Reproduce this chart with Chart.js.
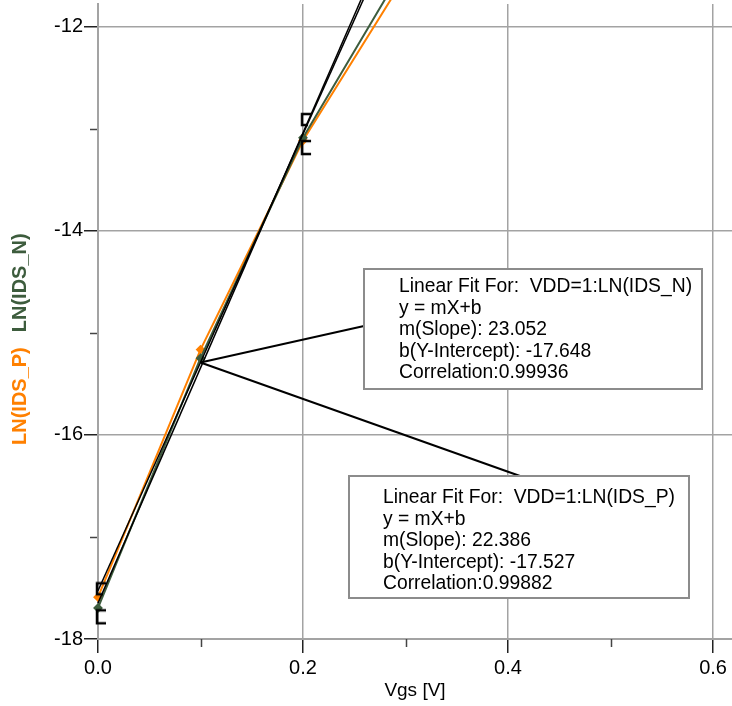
<!DOCTYPE html>
<html>
<head>
<meta charset="utf-8">
<script src="https://cdn.jsdelivr.net/npm/chart.js@4.4.1/dist/chart.umd.min.js"></script>
<style>
  html, body { margin: 0; padding: 0; background: #fff; }
</style>
</head>
<body>
<canvas id="fitChart" width="732" height="706"></canvas>
<script>
// measured data (Vgs sweep)
const vgs = [0, 0.1, 0.2, 0.3];
const lnIdsP = [-17.59, -15.163, -13.113, -11.5];
const lnIdsN = [-17.696, -15.248, -13.086, -11.39];

// linear fit lines, end points over the fit window
const fitX = [0, 0.3];
const nFitY = [-17.648, -10.7324];
const pFitY = [-17.527, -10.8112];

// fit range markers
const rangeX = [0, 0.2];
const rangeY = [-17.65, -13.05];

// point on the fit the two callouts start from
const calloutX = 0.1;
const calloutY = -15.29;

const nFitText = ['Linear Fit For:  VDD=1:LN(IDS_N)', 'y = mX+b', 'm(Slope): 23.052', 'b(Y-Intercept): -17.648', 'Correlation:0.99936'];
const pFitText = ['Linear Fit For:  VDD=1:LN(IDS_P)', 'y = mX+b', 'm(Slope): 22.386', 'b(Y-Intercept): -17.527', 'Correlation:0.99882'];

const ORANGE = '#ff8000';
const GREEN = '#3d5c3d';
const GRID = '#a3a3a3';
const FONT = '"Liberation Sans", Arial, sans-serif';

/**
 * make x/y pairs for a dataset
 */
function pairs(xs, ys) {
    return xs.map((x, i) => ({ x: x, y: ys[i] }));
}

/**
 * bracket marker used for the fit range ends
 */
function bracketMarker() {
    const c = document.createElement('canvas');
    c.width = 24;
    c.height = 44;
    const g = c.getContext('2d');
    g.strokeStyle = '#000';
    g.lineWidth = 2.5;
    g.beginPath();
    // upper piece
    g.moveTo(20, 2); g.lineTo(11, 2); g.lineTo(11, 13); g.lineTo(17, 13);
    // lower piece
    g.moveTo(20, 29); g.lineTo(11, 29); g.lineTo(11, 42); g.lineTo(20, 42);
    g.stroke();
    return c;
}

// small ticks between the labelled ones, and the y axis titles
const extras = {
    id: 'extras',
    beforeDatasetsDraw(chart) {
        const ctx = chart.ctx;
        const x = chart.scales.x, y = chart.scales.y;
        const area = chart.chartArea;
        ctx.save();
        ctx.strokeStyle = '#444';
        ctx.lineWidth = 1.5;
        ctx.beginPath();
        x.ticks.forEach(t => {
            if (Math.round(t.value * 10) % 2 !== 0) {
                const px = Math.round(x.getPixelForValue(t.value)) + 0.5;
                ctx.moveTo(px, area.bottom); ctx.lineTo(px, area.bottom + 8);
            }
        });
        y.ticks.forEach(t => {
            if (Math.round(t.value) % 2 !== 0) {
                const py = Math.round(y.getPixelForValue(t.value)) + 0.5;
                ctx.moveTo(area.left - 1, py); ctx.lineTo(area.left - 8, py);
            }
        });
        ctx.stroke();
        ctx.restore();
    },
    afterDraw(chart) {
        const ctx = chart.ctx;
        const x = chart.scales.x, y = chart.scales.y;
        const ax = x.getPixelForValue(calloutX);
        const ay = y.getPixelForValue(calloutY);
        const boxes = [
            { text: nFitText, left: 364, top: 269, width: 338, height: 120, tx: 399, ty: 287, end: [364, 326] },
            { text: pFitText, left: 349, top: 476, width: 340, height: 122, tx: 383, ty: 498, end: [520, 476] }
        ];
        ctx.save();
        // callout lines
        ctx.strokeStyle = '#000';
        ctx.lineWidth = 2;
        boxes.forEach(b => {
            ctx.beginPath();
            ctx.moveTo(ax, ay);
            ctx.lineTo(b.end[0], b.end[1]);
            ctx.stroke();
        });
        // boxes with the fit results
        boxes.forEach(b => {
            ctx.fillStyle = '#fff';
            ctx.fillRect(b.left, b.top, b.width, b.height);
            ctx.strokeStyle = '#8c8c8c';
            ctx.lineWidth = 2;
            ctx.strokeRect(b.left, b.top, b.width, b.height);
            ctx.fillStyle = '#000';
            ctx.font = '19.3px ' + FONT;
            ctx.textBaseline = 'middle';
            ctx.textAlign = 'left';
            b.text.forEach((line, i) => ctx.fillText(line, b.tx, b.ty + i * 21.5));
        });
        // y titles, one per series
        ctx.translate(20, 445);
        ctx.rotate(-Math.PI / 2);
        ctx.font = 'bold 20px ' + FONT;
        ctx.textBaseline = 'middle';
        ctx.textAlign = 'left';
        ctx.fillStyle = ORANGE;
        ctx.fillText('LN(IDS_P)', 0, 0);
        const w = ctx.measureText('LN(IDS_P)').width;
        ctx.fillStyle = GREEN;
        ctx.fillText('LN(IDS_N)', w + 15, 0);
        ctx.restore();
    }
};

function fitChart(id) {
    const clip = { left: 12, top: 4, right: 0, bottom: 0 };
    const data = {
        datasets: [
            {
                label: 'fit range',
                data: pairs(rangeX, rangeY),
                showLine: false,
                pointStyle: bracketMarker(),
                clip: clip
            },
            {
                label: 'fit N',
                data: pairs(fitX, nFitY),
                borderColor: '#000',
                borderWidth: 1.5,
                pointRadius: 0,
                clip: clip
            },
            {
                label: 'fit P',
                data: pairs(fitX, pFitY),
                borderColor: '#000',
                borderWidth: 1.5,
                pointRadius: 0,
                clip: clip
            },
            {
                label: 'LN(IDS_N)',
                data: pairs(vgs, lnIdsN),
                borderColor: GREEN,
                backgroundColor: GREEN,
                borderWidth: 2,
                pointStyle: 'rectRot',
                pointRadius: 3.5,
                clip: clip
            },
            {
                label: 'LN(IDS_P)',
                data: pairs(vgs, lnIdsP),
                borderColor: ORANGE,
                backgroundColor: ORANGE,
                borderWidth: 2,
                pointStyle: 'rectRot',
                pointRadius: 3.5,
                clip: clip
            }
        ]
    };

    const config = {
        type: 'line',
        data: data,
        options: {
            responsive: false,
            animation: false,
            devicePixelRatio: 1,
            layout: { autoPadding: false, padding: { top: 4, left: 0, right: 0, bottom: 0 } },
            plugins: { legend: { display: false }, tooltip: { enabled: false } },
            elements: { line: { tension: 0 } },
            scales: {
                x: {
                    type: 'linear',
                    min: 0,
                    max: 0.6185,
                    afterFit: s => { s.height = 67; s.paddingLeft = 0; s.paddingRight = 0; },
                    border: { color: GRID, width: 2 },
                    grid: {
                        color: c => Math.round(c.tick.value * 10) % 2 === 0 ? GRID : 'transparent',
                        lineWidth: 1.5,
                        tickLength: 14,
                        tickColor: c => Math.round(c.tick.value * 10) % 2 === 0 ? '#222' : 'transparent',
                        tickWidth: 1.5
                    },
                    ticks: {
                        stepSize: 0.1,
                        includeBounds: false,
                        maxRotation: 0,
                        autoSkip: false,
                        padding: 3,
                        color: '#000',
                        font: { family: FONT, size: 20 },
                        callback: v => Math.round(v * 10) % 2 === 0 ? v.toFixed(1) : ''
                    },
                    title: {
                        display: true,
                        text: 'Vgs [V]',
                        color: '#000',
                        font: { family: FONT, size: 19 },
                        padding: { top: 1 }
                    }
                },
                y: {
                    type: 'linear',
                    min: -18,
                    max: -11.775,
                    afterFit: s => { s.width = 98; s.paddingTop = 0; s.paddingBottom = 0; },
                    border: { color: GRID, width: 2 },
                    grid: {
                        color: c => Math.round(c.tick.value) % 2 === 0 ? GRID : 'transparent',
                        lineWidth: 1.5,
                        tickLength: 14,
                        tickColor: c => Math.round(c.tick.value) % 2 === 0 ? '#222' : 'transparent',
                        tickWidth: 1.5
                    },
                    ticks: {
                        stepSize: 1,
                        includeBounds: false,
                        autoSkip: false,
                        padding: 1,
                        color: '#000',
                        font: { family: FONT, size: 20 },
                        callback: v => Math.round(v) % 2 === 0 ? String(v) : ''
                    }
                }
            }
        },
        plugins: [extras]
    };

    new Chart(document.getElementById(id), config);
}

fitChart('fitChart');
</script>
</body>
</html>
